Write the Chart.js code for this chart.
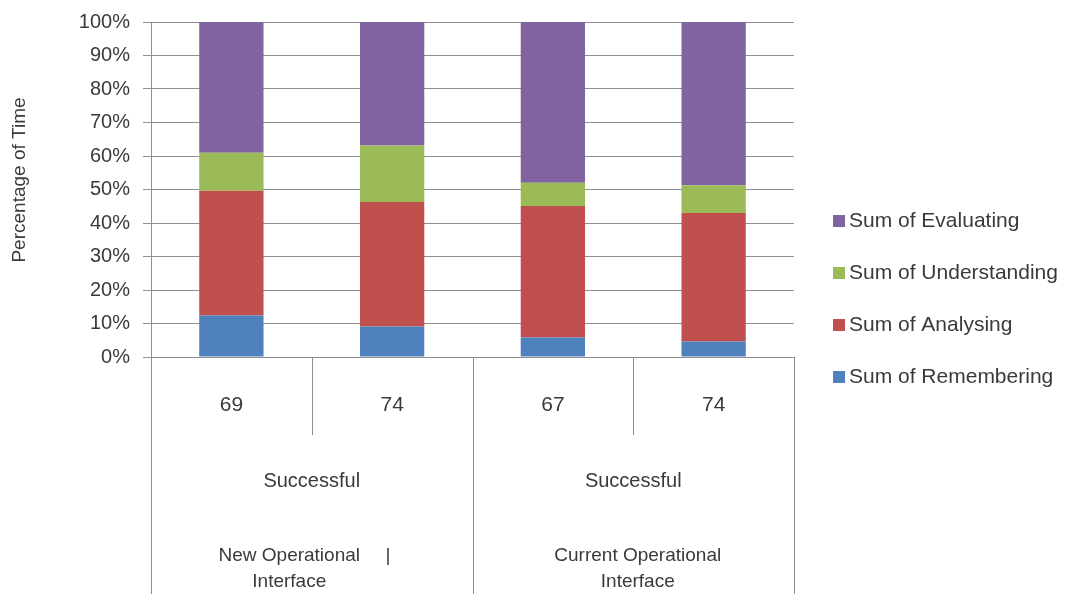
<!DOCTYPE html>
<html>
<head>
<meta charset="utf-8">
<script src="https://cdn.jsdelivr.net/npm/chart.js@4"></script>
<style>
html,body{margin:0;padding:0;background:#fff;}
#wrap{width:1070px;height:594px;}
</style>
</head>
<body>
<div id="wrap"><canvas id="c" width="1070" height="594"></canvas></div>
<script>
const categories = ['69', '74', '67', '74'];
const groupLabels = ['Successful', 'Successful'];
const interfaceLabels = [['New Operational', 'Interface'], ['Current Operational', 'Interface']];
const seriesNames = ['Sum of Remembering', 'Sum of Analysing', 'Sum of Understanding', 'Sum of Evaluating'];
const remembering = [12.4, 9.1, 5.8, 4.6];
const analysing = [37.2, 37.2, 39.3, 38.4];
const understanding = [11.4, 16.8, 6.9, 8.3];
const evaluating = [39.0, 36.9, 48.0, 48.7];
const yTicks = [0, 10, 20, 30, 40, 50, 60, 70, 80, 90, 100];
const colors = ['#4F81BD', '#C0504D', '#9BBB59', '#8064A2'];
const FONT = "'Liberation Sans', Arial, sans-serif";
const TXT = '#3a3a3a';
const GRID = '#8f8f8f';

const extras = {
  id: 'extras',
  afterDraw(chart) {
    const ctx = chart.ctx;
    const x = chart.scales.x;
    const ca = chart.chartArea;
    const bottom = 594;
    const px = i => x.getPixelForValue(i);
    const half = (px(1) - px(0)) / 2;
    ctx.save();
    ctx.strokeStyle = GRID;
    ctx.lineWidth = 1;
    const lines = [
      [ca.left, bottom], [px(0) + half, 435], [px(1) + half, bottom], [px(2) + half, 435], [ca.right, bottom]
    ];
    lines.forEach(([lx, ly]) => {
      const xx = Math.round(lx) + 0.5;
      ctx.beginPath(); ctx.moveTo(xx, ca.bottom); ctx.lineTo(xx, ly); ctx.stroke();
    });
    ctx.fillStyle = TXT;
    ctx.textAlign = 'center';
    ctx.textBaseline = 'middle';
    ctx.font = '20px ' + FONT;
    for (let g = 0; g < 2; g++) {
      const cx = (px(2 * g) + px(2 * g + 1)) / 2;
      ctx.fillText(groupLabels[g], cx, 481);
    }
    ctx.font = '19px ' + FONT;
    const ilx = [289, 638];
    for (let g = 0; g < 2; g++) {
      const cx = (px(2 * g) + px(2 * g + 1)) / 2 + (ilx[g] - (g === 0 ? 311.5 : 633.5));
      ctx.fillText(interfaceLabels[g][0], cx, 556);
      ctx.fillText(interfaceLabels[g][1], cx, 582);
    }
    ctx.fillText('|', 388, 556);
    ctx.save();
    ctx.translate(20, 180);
    ctx.rotate(-Math.PI / 2);
    ctx.font = '19px ' + FONT;
    ctx.fillText('Percentage of Time', 0, 0);
    ctx.restore();
    ctx.textAlign = 'left';
    ctx.font = '21px ' + FONT;
    const order = [3, 2, 1, 0];
    order.forEach((d, k) => {
      const ly = 221 + k * 52;
      ctx.fillStyle = colors[d];
      ctx.fillRect(833, ly - 6, 12, 12);
      ctx.fillStyle = TXT;
      ctx.fillText(seriesNames[d], 849, ly);
    });
    ctx.restore();
  }
};

new Chart(document.getElementById('c'), {
  type: 'bar',
  data: {
    labels: categories,
    datasets: [
      { label: seriesNames[0], data: remembering, backgroundColor: colors[0] },
      { label: seriesNames[1], data: analysing, backgroundColor: colors[1] },
      { label: seriesNames[2], data: understanding, backgroundColor: colors[2] },
      { label: seriesNames[3], data: evaluating, backgroundColor: colors[3] }
    ]
  },
  options: {
    responsive: false,
    animation: false,
    devicePixelRatio: 1,
    layout: { padding: { top: 22, right: 276, left: 0, bottom: 0 } },
    datasets: { bar: { categoryPercentage: 1, barPercentage: 0.4 } },
    plugins: { legend: { display: false }, tooltip: { enabled: false } },
    scales: {
      x: {
        stacked: true,
        grid: { display: false },
        border: { display: true, color: GRID, width: 1 },
        ticks: { color: TXT, font: { size: 21, family: FONT }, padding: 28, maxRotation: 0 },
        afterFit(s) { s.height = 237; }
      },
      y: {
        stacked: true,
        min: 0, max: 100,
        afterBuildTicks(s) { s.ticks = yTicks.map(v => ({ value: v })); },
        grid: { color: GRID, lineWidth: 1, tickLength: 8, drawTicks: true },
        border: { display: true, color: GRID, width: 1 },
        ticks: { color: TXT, font: { size: 20, family: FONT }, padding: 13, callback: v => v + '%' },
        afterFit(s) { s.width = 151; s.paddingTop = 0; }
      }
    }
  },
  plugins: [extras]
});
</script>
</body>
</html>
